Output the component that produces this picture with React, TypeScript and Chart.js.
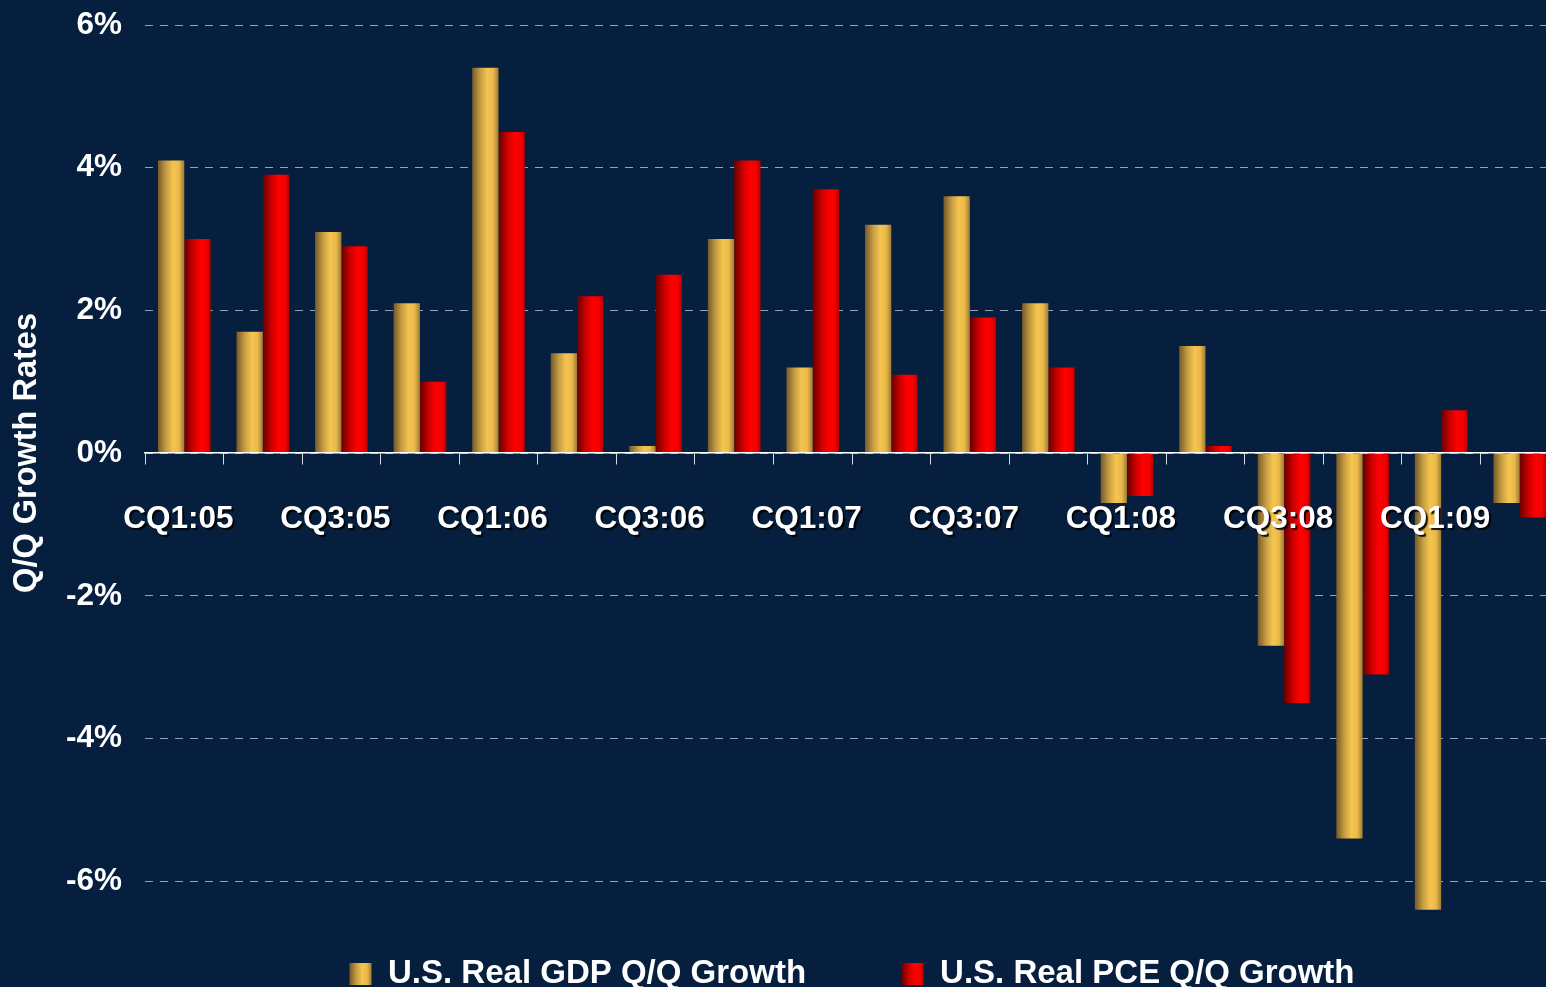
import { useEffect, useRef } from 'react';
import { Chart, registerables } from 'chart.js';

Chart.register(...registerables);

const QUARTERS = [
  'CQ1:05', 'CQ2:05', 'CQ3:05', 'CQ4:05',
  'CQ1:06', 'CQ2:06', 'CQ3:06', 'CQ4:06',
  'CQ1:07', 'CQ2:07', 'CQ3:07', 'CQ4:07',
  'CQ1:08', 'CQ2:08', 'CQ3:08', 'CQ4:08',
  'CQ1:09', 'CQ2:09',
];
const GDP_GROWTH = [4.1, 1.7, 3.1, 2.1, 5.4, 1.4, 0.1, 3.0, 1.2, 3.2, 3.6, 2.1, -0.7, 1.5, -2.7, -5.4, -6.4, -0.7];
const PCE_GROWTH = [3.0, 3.9, 2.9, 1.0, 4.5, 2.2, 2.5, 4.1, 3.7, 1.1, 1.9, 1.2, -0.6, 0.1, -3.5, -3.1, 0.6, -0.9];
const Y_TICKS = [-6, -4, -2, 0, 2, 4, 6];
const SERIES_NAMES = ['U.S. Real GDP Q/Q Growth', 'U.S. Real PCE Q/Q Growth'];
const Y_TITLE = 'Q/Q Growth Rates';

const FONT = "'Liberation Sans', Arial, Helvetica, sans-serif";
const BG = '#061f3f';
const PAGE_W = 1546;
const PAGE_H = 987;
const CANVAS_W = 1559; // plot runs slightly past the right edge of the page, as in the original

const GOLD_STOPS: [number, string][] = [
  [0, '#74592a'], [0.3, '#c49b42'], [0.58, '#f5c54f'], [0.8, '#eab94a'], [1, '#9c7c36'],
];
const RED_STOPS: [number, string][] = [
  [0, '#660000'], [0.35, '#d00000'], [0.62, '#ff0000'], [0.85, '#f20000'], [1, '#b40000'],
];

function makeGradient(ctx: CanvasRenderingContext2D, x0: number, x1: number, stops: [number, string][]) {
  const g = ctx.createLinearGradient(x0, 0, x1, 0);
  stops.forEach(([o, c]) => g.addColorStop(o, c));
  return g;
}

const gradientBars = {
  id: 'gradientBars',
  beforeDatasetsDraw(chart: any) {
    chart.data.datasets.forEach((_ds: any, di: number) => {
      const meta = chart.getDatasetMeta(di);
      const stops = di === 0 ? GOLD_STOPS : RED_STOPS;
      meta.data.forEach((el: any) => {
        const { x, width } = el.getProps(['x', 'width'], true);
        el.options.backgroundColor = makeGradient(chart.ctx, x - width / 2, x + width / 2, stops);
      });
    });
  },
};

const legendGradientBoxes = {
  id: 'legendGradientBoxes',
  afterDraw(chart: any) {
    const legend = chart.legend;
    if (!legend || !legend.legendHitBoxes) return;
    const ctx: CanvasRenderingContext2D = chart.ctx;
    const { boxWidth, boxHeight, font } = legend.options.labels;
    const fontSize = font.size;
    legend.legendHitBoxes.forEach((hb: any, i: number) => {
      const stops = i === 0 ? GOLD_STOPS : RED_STOPS;
      const y = hb.top + Math.max((fontSize - boxHeight) / 2, 0);
      ctx.save();
      ctx.fillStyle = makeGradient(ctx, hb.left, hb.left + boxWidth, stops);
      ctx.fillRect(hb.left, y, boxWidth, boxHeight);
      ctx.restore();
    });
  },
};

const xLabelShadow = {
  id: 'xLabelShadow',
  afterUpdate(chart: any) {
    const scale = chart.scales.x;
    if (!scale || scale.__shadowPatched) return;
    const orig = scale.drawLabels.bind(scale);
    scale.drawLabels = (area: any) => {
      const ctx = scale.ctx;
      ctx.save();
      ctx.shadowColor = 'rgba(0,0,0,0.9)';
      ctx.shadowOffsetX = 2;
      ctx.shadowOffsetY = 2;
      ctx.shadowBlur = 1;
      orig(area);
      ctx.restore();
    };
    scale.__shadowPatched = true;
  },
};

export default function App() {
  const canvasRef = useRef<HTMLCanvasElement | null>(null);

  useEffect(() => {
    document.body.style.margin = '0';
    const canvas = canvasRef.current;
    if (!canvas) return;
    const chart = new Chart(canvas, {
      type: 'bar',
      data: {
        labels: QUARTERS,
        datasets: [
          { label: SERIES_NAMES[0], data: GDP_GROWTH, backgroundColor: () => '#f5c54f', borderWidth: 0 },
          { label: SERIES_NAMES[1], data: PCE_GROWTH, backgroundColor: () => '#ff0000', borderWidth: 0 },
        ],
      },
      options: {
        responsive: false,
        animation: false,
        events: [],
        layout: { padding: { top: 25, right: 0, bottom: -13.5, left: 0 } },
        datasets: { bar: { categoryPercentage: 0.67, barPercentage: 1.0 } },
        scales: {
          x: {
            type: 'category',
            position: { y: 0 },
            offset: true,
            afterFit: (scale: any) => {
              scale.paddingLeft = 0;
              scale.paddingRight = 0;
            },
            grid: {
              offset: true,
              drawOnChartArea: false,
              drawTicks: true,
              tickLength: 11,
              color: '#d5d9e0',
              lineWidth: 1,
            },
            border: { display: true, color: '#ffffff', width: 1.5, z: 1 },
            ticks: {
              z: 1,
              autoSkip: false,
              maxRotation: 0,
              minRotation: 0,
              padding: 36,
              labelOffset: -6,
              color: '#ffffff',
              font: { family: FONT, size: 31.5, weight: 'bold' },
              callback: (_v: any, i: number) => (i % 2 === 0 ? QUARTERS[i] : ''),
            },
          },
          y: {
            type: 'linear',
            min: -6.5,
            max: 6,
            afterBuildTicks: (scale: any) => {
              scale.ticks = Y_TICKS.map((v) => ({ value: v }));
            },
            afterFit: (scale: any) => {
              scale.width = 145;
              scale.paddingTop = 0;
              scale.paddingBottom = 0;
            },
            grid: {
              drawTicks: false,
              color: '#98a1b1',
              lineWidth: 1,
            },
            border: { display: false, dash: [8, 7] },
            ticks: {
              padding: 23,
              color: '#ffffff',
              font: { family: FONT, size: 31.5, weight: 'bold' },
              callback: (v: any) => `${v}%`,
            },
            title: {
              display: true,
              text: `    ${Y_TITLE}`,
              color: '#ffffff',
              font: { family: FONT, size: 32.5, weight: 'bold' },
              padding: { top: 8, bottom: 0 },
            },
          },
        },
        plugins: {
          tooltip: { enabled: false },
          legend: {
            display: true,
            position: 'bottom',
            fullSize: false,
            align: 'center',
            labels: {
              color: '#ffffff',
              font: { family: FONT, size: 33, weight: 'bold' },
              boxWidth: 22,
              boxHeight: 22,
              padding: 40.5,
              generateLabels: (c: any) =>
                c.data.datasets.map((ds: any, i: number) => ({
                  text: i === 0 ? `${ds.label}      ` : ds.label,
                  fillStyle: 'rgba(0,0,0,0)',
                  strokeStyle: 'rgba(0,0,0,0)',
                  lineWidth: 0,
                  fontColor: '#ffffff',
                  hidden: false,
                  datasetIndex: i,
                })),
            },
          },
        },
      } as any,
      plugins: [gradientBars, legendGradientBoxes, xLabelShadow],
    });
    return () => chart.destroy();
  }, []);

  return (
    <div style={{ width: PAGE_W, height: PAGE_H, background: BG, overflow: 'hidden' }}>
      <canvas ref={canvasRef} width={CANVAS_W} height={PAGE_H} style={{ display: 'block' }} />
    </div>
  );
}
